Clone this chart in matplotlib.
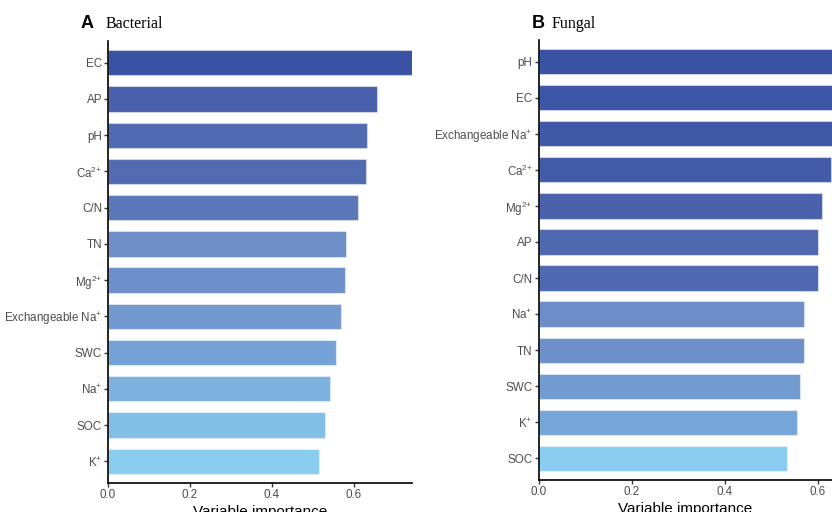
import matplotlib
matplotlib.use("Agg")
import matplotlib.pyplot as plt
from matplotlib.colors import LinearSegmentedColormap, Normalize

plt.rcParams["font.family"] = ["Liberation Sans", "DejaVu Sans"]
plt.rcParams["mathtext.fontset"] = "custom"
plt.rcParams["mathtext.rm"] = "Liberation Sans"

# Bacterial community: variable importance (top to bottom)
bact_vars = ["EC", "AP", "pH", r"Ca$^{\mathregular{2{+}}}$", "C/N", "TN",
             r"Mg$^{\mathregular{2{+}}}$", r"Exchangeable Na$^{\mathregular{{+}}}$",
             "SWC", r"Na$^{\mathregular{{+}}}$", "SOC", r"K$^{\mathregular{{+}}}$"]
bact_vals = [0.742, 0.656, 0.632, 0.629, 0.609, 0.580,
             0.579, 0.568, 0.556, 0.541, 0.530, 0.514]

# Fungal community: variable importance (top to bottom)
fung_vars = ["pH", "EC", r"Exchangeable Na$^{\mathregular{{+}}}$",
             r"Ca$^{\mathregular{2{+}}}$", r"Mg$^{\mathregular{2{+}}}$", "AP", "C/N",
             r"Na$^{\mathregular{{+}}}$", "TN", "SWC", r"K$^{\mathregular{{+}}}$", "SOC"]
fung_vals = [0.660, 0.650, 0.640, 0.629, 0.610, 0.601, 0.601,
             0.571, 0.570, 0.563, 0.556, 0.534]

cmap = LinearSegmentedColormap.from_list(
    "imp",
    [(0.00, "#8BCDF0"), (0.07, "#82BDE5"), (0.18, "#76A4D8"),
     (0.30, "#6D8DC7"), (0.45, "#5671B6"), (0.60, "#4A61AC"),
     (1.00, "#3A52A4")])

fig = plt.figure(figsize=(8.32, 5.12), dpi=100)


def panel(rect, names, vals, xmax, letter, title, letter_x, title_x):
    ax = fig.add_axes(rect)
    n = len(vals)
    ypos = list(range(n))
    norm = Normalize(vmin=min(vals), vmax=max(vals))
    colors = [cmap(norm(v)) for v in vals]
    ax.barh(ypos, vals, height=0.7, color=colors,
            edgecolor=(1, 1, 1, 0.45), linewidth=0.8)
    ax.set_ylim(n - 1 + 0.6, -0.6)
    ax.set_xlim(0, xmax)
    ax.set_yticks(ypos)
    ax.set_yticklabels(names)
    ax.set_xticks([0.0, 0.2, 0.4, 0.6])
    ax.set_xticklabels(["0.0", "0.2", "0.4", "0.6"])
    for s in ("top", "right"):
        ax.spines[s].set_visible(False)
    for s in ("left", "bottom"):
        ax.spines[s].set_linewidth(1.2)
        ax.spines[s].set_color("black")
    ax.tick_params(axis="both", length=2.8, width=1, color="#333333",
                   labelcolor="#4D4D4D", labelsize=8.4, pad=1.5)
    ax.set_xlabel("Variable importance", fontsize=11, color="black", labelpad=3)
    fig.text(letter_x, 1 - 28.5 / 512, letter, fontsize=13, fontweight="bold",
             family=["Liberation Sans"], ha="left", va="baseline")
    fig.text(title_x, 1 - 28.5 / 512, title, fontsize=11.5,
             family=["Liberation Serif"], ha="left", va="baseline")
    return ax


panel([108 / 832, 1 - 483 / 512, (412 - 108) / 832, (483 - 41) / 512],
      bact_vars, bact_vals, 0.742, "A", "Bacterial", 81 / 832, 106 / 832)
panel([538.5 / 832, 1 - 480 / 512, (832 - 538.5) / 832, (480 - 40) / 512],
      fung_vars, fung_vals, 0.631, "B", "Fungal", 532 / 832, 552 / 832)

fig.savefig("out.png", dpi=100)
